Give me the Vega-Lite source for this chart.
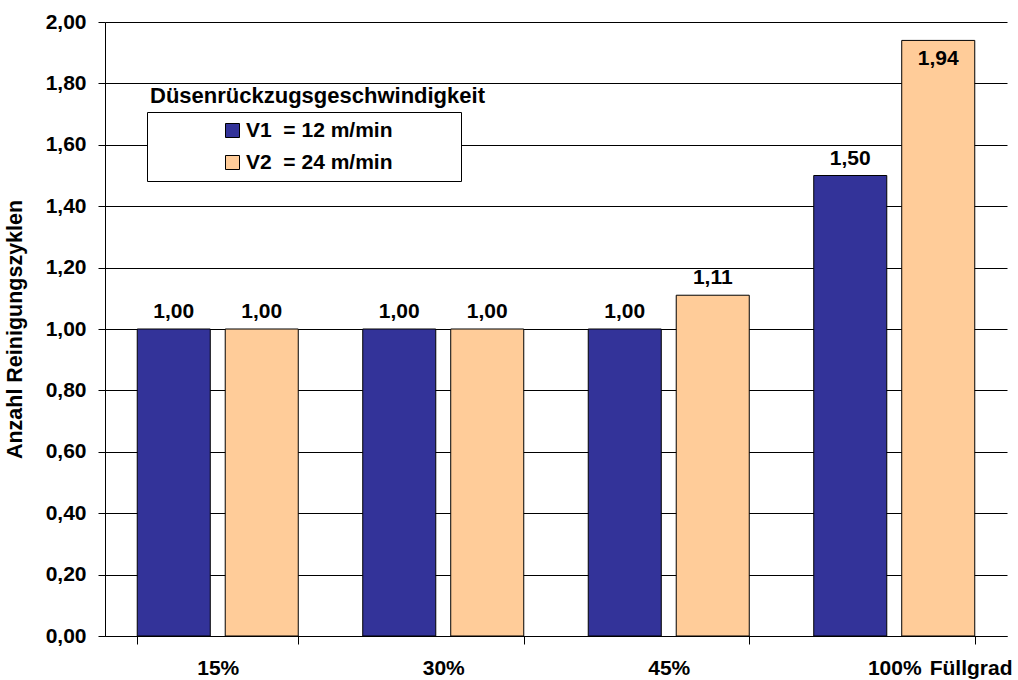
{
  "$schema": "https://vega.github.io/schema/vega-lite/v6.json",
  "width": 902,
  "height": 614,
  "autosize": "none",
  "padding": {"left": 105, "top": 22, "right": 11, "bottom": 44},
  "background": "white",
  "title": {
    "text": "Düsenrückzugsgeschwindigkeit",
    "anchor": "start",
    "frame": "group",
    "orient": "top",
    "offset": -97,
    "dx": 45,
    "font": "Liberation Sans",
    "fontSize": 22,
    "fontWeight": "bold",
    "color": "black"
  },
  "config": {
    "locale": {"number": {"decimal": ",", "thousands": ".", "grouping": [3], "currency": ["", " €"]}},
    "view": {"stroke": null},
    "font": "Liberation Sans"
  },
  "data": {
    "values": [
      {"grad": "15%", "serie": "V1  = 12 m/min", "wert": 1.00},
      {"grad": "15%", "serie": "V2  = 24 m/min", "wert": 1.00},
      {"grad": "30%", "serie": "V1  = 12 m/min", "wert": 1.00},
      {"grad": "30%", "serie": "V2  = 24 m/min", "wert": 1.00},
      {"grad": "45%", "serie": "V1  = 12 m/min", "wert": 1.00},
      {"grad": "45%", "serie": "V2  = 24 m/min", "wert": 1.11},
      {"grad": "100%", "serie": "V1  = 12 m/min", "wert": 1.50},
      {"grad": "100%", "serie": "V2  = 24 m/min", "wert": 1.94}
    ]
  },
  "encoding": {
    "x": {
      "field": "grad",
      "type": "nominal",
      "sort": ["15%", "30%", "45%", "100%"],
      "scale": {"paddingInner": 0.286, "paddingOuter": 0.143},
      "axis": {
        "title": "Füllgrad",
        "titleAnchor": "end",
        "titleAlign": "right",
        "titleX": 907,
        "titleY": 21,
        "titleBaseline": "top",
        "titleFont": "Liberation Sans",
        "titleFontSize": 21,
        "titleFontWeight": "bold",
        "titleColor": "black",
        "labelAngle": 0,
        "labelFont": "Liberation Sans",
        "labelFontSize": 21,
        "labelFontWeight": "bold",
        "labelColor": "black",
        "labelPadding": 13,
        "tickBand": "extent",
        "tickSize": 8,
        "tickColor": "black",
        "tickWidth": 1,
        "domainColor": "black",
        "grid": false
      }
    },
    "xOffset": {
      "field": "serie",
      "type": "nominal",
      "scale": {"paddingInner": 0.17, "paddingOuter": 0}
    },
    "y": {
      "field": "wert",
      "type": "quantitative",
      "scale": {"domain": [0, 2], "nice": false, "zero": true},
      "axis": {
        "title": "Anzahl Reinigungszyklen",
        "titleFont": "Liberation Sans",
        "titleFontSize": 21.5,
        "titleFontWeight": "bold",
        "titleColor": "black",
        "titlePadding": 19,
        "values": [0, 0.2, 0.4, 0.6, 0.8, 1.0, 1.2, 1.4, 1.6, 1.8, 2.0],
        "format": ".2f",
        "labelFont": "Liberation Sans",
        "labelFontSize": 21,
        "labelFontWeight": "bold",
        "labelColor": "black",
        "labelPadding": 12,
        "tickSize": 7,
        "tickColor": "black",
        "domainColor": "black",
        "grid": true,
        "gridColor": "black",
        "gridWidth": 1,
        "gridOpacity": 1
      }
    }
  },
  "layer": [
    {
      "mark": {"type": "bar", "stroke": "black", "strokeWidth": 1},
      "encoding": {
        "color": {
          "field": "serie",
          "type": "nominal",
          "scale": {"domain": ["V1  = 12 m/min", "V2  = 24 m/min"], "range": ["#333399", "#FFCC99"]},
          "legend": {
            "title": null,
            "orient": "none",
            "legendX": 42,
            "legendY": 90,
            "fillColor": "white",
            "strokeColor": "black",
            "padding": 8,
            "symbolOffset": 67,
            "symbolType": "square",
            "symbolSize": 196,
            "symbolStrokeColor": "black",
            "symbolStrokeWidth": 1,
            "labelOffset": 3,
            "rowPadding": 10,
            "labelFont": "Liberation Sans",
            "labelFontSize": 21,
            "labelFontWeight": "bold",
            "labelColor": "black",
            "labelLimit": 400,
            "labelExpr": "replace(datum.label, '  ', '\u00a0\u00a0') + '\u2800\u2800\u2800\u2800'"
          }
        }
      }
    },
    {
      "transform": [{"filter": "datum.wert < 1.9"}],
      "mark": {"type": "text", "baseline": "bottom", "dy": -7, "font": "Liberation Sans", "fontSize": 21, "fontWeight": "bold", "color": "black"},
      "encoding": {
        "text": {"field": "wert", "type": "quantitative", "format": ".2f"}
      }
    },
    {
      "transform": [{"filter": "datum.wert >= 1.9"}],
      "mark": {"type": "text", "baseline": "top", "dy": 8, "font": "Liberation Sans", "fontSize": 21, "fontWeight": "bold", "color": "black"},
      "encoding": {
        "text": {"field": "wert", "type": "quantitative", "format": ".2f"}
      }
    }
  ]
}
